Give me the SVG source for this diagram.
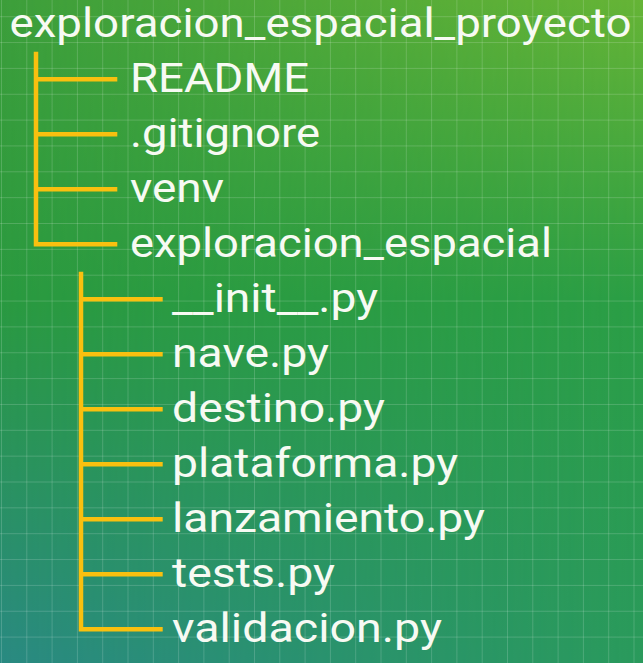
<svg xmlns="http://www.w3.org/2000/svg" width="643" height="663" viewBox="0 0 643 663">
  <defs>
    <linearGradient id="gLeft" x1="0" y1="0" x2="0" y2="1">
      <stop offset="0" stop-color="#3d9f3b"/>
      <stop offset="0.45" stop-color="#2a9a40"/>
      <stop offset="1" stop-color="#2a8a82"/>
    </linearGradient>
    <linearGradient id="gRight" x1="0" y1="0" x2="0" y2="1">
      <stop offset="0" stop-color="#66b436"/>
      <stop offset="0.45" stop-color="#2b9e45"/>
      <stop offset="1" stop-color="#2a9a5c"/>
    </linearGradient>
    <linearGradient id="gMask" x1="0" y1="0" x2="1" y2="0">
      <stop offset="0" stop-color="#000"/>
      <stop offset="1" stop-color="#fff"/>
    </linearGradient>
    <mask id="mRight" maskUnits="userSpaceOnUse" x="0" y="0" width="643" height="663">
      <rect width="643" height="663" fill="url(#gMask)"/>
    </mask>
    <style>
      .grid { stroke: #ffffff; stroke-opacity: 0.17; stroke-width: 1; fill: none; }
      .conn { stroke: #f9c00f; stroke-width: 4.5; fill: none; stroke-linecap: butt; stroke-linejoin: miter; }
      .label { font-family: Roboto, "Liberation Sans", sans-serif; font-size: 41px; fill: #f7faf3; }
    </style>
  </defs>

  <g id="background">
    <rect width="643" height="663" fill="url(#gLeft)"/>
    <rect width="643" height="663" fill="url(#gRight)" mask="url(#mRight)"/>
    <path class="grid" d="M1.5 0V663M26.8 0V663M52.1 0V663M77.4 0V663M102.7 0V663M128 0V663M153.3 0V663M178.6 0V663M203.9 0V663M229.2 0V663M254.5 0V663M279.8 0V663M305.1 0V663M330.4 0V663M355.7 0V663M381 0V663M406.3 0V663M431.6 0V663M456.9 0V663M482.2 0V663M507.5 0V663M532.8 0V663M558.1 0V663M583.4 0V663M608.7 0V663M634 0V663
      M0 16.7H643M0 42.55H643M0 68.4H643M0 94.25H643M0 120.1H643M0 145.95H643M0 171.8H643M0 197.65H643M0 223.5H643M0 249.35H643M0 275.2H643M0 301.05H643M0 326.9H643M0 352.75H643M0 378.6H643M0 404.45H643M0 430.3H643M0 456.15H643M0 482H643M0 507.85H643M0 533.7H643M0 559.55H643M0 585.4H643M0 611.25H643M0 637.1H643"/>
  </g>

  <g id="connectors">
    <path class="conn" d="M36 51.7V244.3H117.3M36 79.3H117.3M36 134.3H117.3M36 189.3H117.3"/>
    <path class="conn" d="M81 271.7V629.3H162.7M81 299.3H162.7M81 354.3H162.7M81 409.3H162.7M81 464.3H162.7M81 519.3H162.7M81 574.3H162.7"/>
  </g>

  <g id="node-root"><text class="label" x="9.5" y="37.3" textLength="622" lengthAdjust="spacingAndGlyphs">exploracion_espacial_proyecto</text></g>
  <g id="node-readme"><text class="label" x="130" y="92.3" textLength="179" lengthAdjust="spacingAndGlyphs">README</text></g>
  <g id="node-gitignore"><text class="label" x="130" y="147.3" textLength="190" lengthAdjust="spacingAndGlyphs">.gitignore</text></g>
  <g id="node-venv"><text class="label" x="130" y="202.3" textLength="94" lengthAdjust="spacingAndGlyphs">venv</text></g>
  <g id="node-pkg"><text class="label" x="130" y="257.3" textLength="422" lengthAdjust="spacingAndGlyphs">exploracion_espacial</text></g>
  <g id="node-init"><text class="label" x="172" y="312.3" textLength="206" lengthAdjust="spacingAndGlyphs">__init__.py</text></g>
  <g id="node-nave"><text class="label" x="172" y="367.3" textLength="157" lengthAdjust="spacingAndGlyphs">nave.py</text></g>
  <g id="node-destino"><text class="label" x="172" y="422.3" textLength="213" lengthAdjust="spacingAndGlyphs">destino.py</text></g>
  <g id="node-plataforma"><text class="label" x="172" y="477.3" textLength="286" lengthAdjust="spacingAndGlyphs">plataforma.py</text></g>
  <g id="node-lanzamiento"><text class="label" x="172" y="532.3" textLength="313" lengthAdjust="spacingAndGlyphs">lanzamiento.py</text></g>
  <g id="node-tests"><text class="label" x="172" y="587.3" textLength="163" lengthAdjust="spacingAndGlyphs">tests.py</text></g>
  <g id="node-validacion"><text class="label" x="172" y="642.3" textLength="270" lengthAdjust="spacingAndGlyphs">validacion.py</text></g>
</svg>
